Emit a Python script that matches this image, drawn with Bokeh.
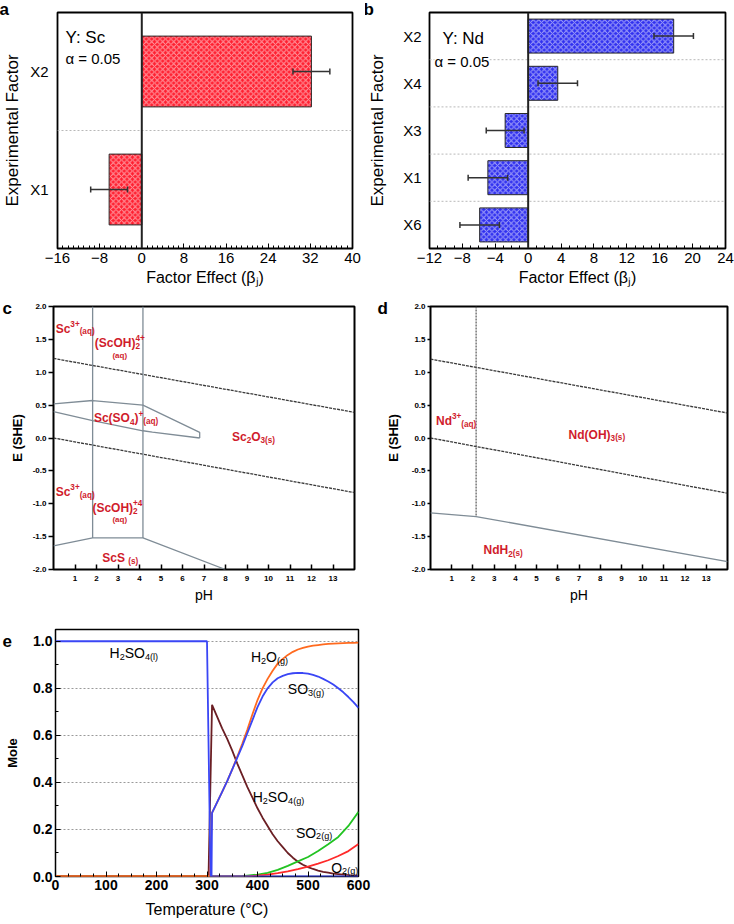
from bokeh.plotting import figure
from bokeh.layouts import column, row
from bokeh.models import (Label, Span, FixedTicker, Range1d, ColumnDataSource, PrintfTickFormatter,
                          Title)
from bokeh.embed import file_html
from bokeh.resources import INLINE

FONT = "Liberation Sans"

# ---------------- data ----------------
a_factors = ["X1", "X2"]
a_effects = [-6.2, 32.2]
a_errors = [3.5, 3.5]
a_ticks = [-16, -8, 0, 8, 16, 24, 32, 40]
a_minor = list(range(-16, 41))

b_factors = ["X6", "X1", "X3", "X4", "X2"]
b_effects = [-5.9, -4.9, -2.8, 3.6, 17.7]
b_errors = [2.4, 2.4, 2.3, 2.4, 2.4]
b_ticks = [-12, -8, -4, 0, 4, 8, 12, 16, 20, 24]
b_minor = list(range(-12, 25))

ph_ticks = [1, 2, 3, 4, 5, 6, 7, 8, 9, 10, 11, 12, 13]
e_ticks = [-2.0, -1.5, -1.0, -0.5, 0.0, 0.5, 1.0, 1.5, 2.0]

# panel c boundaries (pH, E)
c_wup_ph = [0, 14]
c_wup_E = [1.21, 0.39]
c_wlo_ph = [0, 14]
c_wlo_E = [0.0, -0.83]
c_v1_ph = [1.82, 1.82]
c_v1_E = [2.0, -1.52]
c_v2_ph = [4.16, 4.16]
c_v2_E = [2.0, -1.52]
c_so4up_ph = [0, 1.82, 4.16, 6.8, 6.8]
c_so4up_E = [0.52, 0.57, 0.50, 0.085, 0.0]
c_so4lo_ph = [0, 1.82, 4.16, 4.6, 6.8]
c_so4lo_E = [0.40, 0.265, 0.11, 0.09, 0.0]
c_scs_ph = [0, 1.82, 4.16, 8.0]
c_scs_E = [-1.64, -1.52, -1.52, -2.0]

# panel d boundaries
d_wup_ph = [0, 14]
d_wup_E = [1.20, 0.38]
d_wlo_ph = [0, 14]
d_wlo_E = [0.0, -0.84]
d_v_ph = [2.15, 2.15]
d_v_E = [2.0, -1.195]
d_ndh_ph = [0, 2.15, 14]
d_ndh_E = [-1.14, -1.195, -1.88]

# panel e
t_ticks = [0, 100, 200, 300, 400, 500, 600]
t_minor = list(range(0, 601, 25))
m_ticks = [0.0, 0.2, 0.4, 0.6, 0.8, 1.0]
m_minor = [0.0, 0.1, 0.2, 0.3, 0.4, 0.5, 0.6, 0.7, 0.8, 0.9, 1.0]

h2so4l_T = [0, 300, 307, 600]
h2so4l_m = [1.0, 1.0, 0.0, 0.0]

h2so4g_T = [0, 303, 310, 320, 330, 340, 350, 360, 370, 380, 390, 400, 410, 420, 430, 440, 450,
            460, 470, 480, 490, 500, 510, 520, 530, 540, 550, 560, 570, 580, 590, 600]
h2so4g_m = [0.0, 0.0, 0.73, 0.68, 0.63, 0.585, 0.535, 0.48, 0.43, 0.38, 0.335, 0.29, 0.25, 0.215,
            0.18, 0.15, 0.125, 0.10, 0.08, 0.063, 0.05, 0.04, 0.032, 0.025, 0.02, 0.016, 0.012,
            0.01, 0.008, 0.006, 0.005, 0.004]

h2o_T = [0, 305, 310, 320, 330, 340, 350, 360, 370, 380, 390, 400, 410, 420, 430, 440, 450, 460,
         470, 480, 490, 500, 510, 520, 530, 540, 550, 560, 570, 580, 590, 600]
h2o_m = [0.0, 0.0, 0.27, 0.315, 0.36, 0.405, 0.455, 0.51, 0.565, 0.625, 0.69, 0.75, 0.80, 0.84,
         0.875, 0.905, 0.925, 0.942, 0.955, 0.965, 0.972, 0.977, 0.981, 0.984, 0.987, 0.989, 0.990,
         0.991, 0.992, 0.993, 0.993, 0.994]

so3_T = [309, 310, 320, 330, 340, 350, 360, 370, 380, 390, 400, 410, 420, 430, 440, 450, 460, 470,
         480, 490, 500, 510, 520, 530, 540, 550, 560, 570, 580, 590, 600]
so3_m = [0.0, 0.27, 0.315, 0.36, 0.405, 0.455, 0.505, 0.555, 0.61, 0.665, 0.72, 0.765, 0.80, 0.825,
         0.843, 0.853, 0.86, 0.864, 0.866, 0.865, 0.862, 0.857, 0.85, 0.84, 0.829, 0.816, 0.80,
         0.783, 0.763, 0.741, 0.717]

so2_T = [0, 350, 370, 400, 420, 440, 460, 480, 500, 520, 540, 560, 580, 600]
so2_m = [0.0, 0.0, 0.002, 0.008, 0.015, 0.028, 0.045, 0.064, 0.083, 0.108, 0.137, 0.168, 0.215, 0.275]

o2_T = [0, 380, 400, 420, 440, 460, 480, 500, 520, 540, 560, 580, 600]
o2_m = [0.0, 0.0, 0.004, 0.008, 0.014, 0.022, 0.031, 0.042, 0.055, 0.069, 0.087, 0.108, 0.138]

# ---------------- helpers ----------------
REG_W = {'H': .722, 'S': .667, 'O': .778, 'C': .722, 'N': .722, 'd': .556, '(': .333, ')': .333,
         'l': .222, 'g': .556, 'a': .556, 'q': .556, 's': .5, 'c': .5, 'h': .556, '+': .584,
         ' ': .278}
BOLD_W = {'H': .722, 'S': .667, 'O': .778, 'C': .722, 'N': .722, 'd': .611, '(': .333, ')': .333,
          'l': .278, 'g': .611, 'a': .556, 'q': .611, 's': .556, 'c': .556, 'h': .611, '+': .584,
          ' ': .278}


def tw(s, size, bold):
    t = BOLD_W if bold else REG_W
    return sum(t.get(ch, 0.556) for ch in s) * size


def rich(p, x, y, segs, size, color="black", bold=False, ratio=0.68):
    small = size * ratio

    def seg_w(txt, kind):
        if kind == "n":
            return tw(txt, size, bold)
        if kind == "bp":
            return max(tw(txt[0], small, bold), tw(txt[1], small, bold))
        return tw(txt, small, bold)

    off = 0
    for txt, kind in segs:
        if kind == "n":
            pieces = [(txt, size, 0)]
        elif kind == "b":
            pieces = [(txt, small, -0.28 * size)]
        elif kind == "p":
            pieces = [(txt, small, 0.38 * size)]
        else:
            pieces = [(txt[0], small, -0.28 * size), (txt[1], small, 0.38 * size)]
        for t, fs, dy in pieces:
            p.add_layout(Label(x=x, y=y, x_offset=off, y_offset=dy,
                               text=t, text_font=FONT, text_font_size=f"{fs:.1f}px",
                               text_font_style="bold" if bold else "normal", text_color=color,
                               text_baseline="alphabetic", text_align="left"))
        off += seg_w(txt, kind)


def screen_label(p, x, y, text, size, bold=False, color="black", bg=None):
    p.add_layout(Label(x=x, y=y, x_units="screen", y_units="screen", text=text, text_font=FONT,
                       text_font_size=f"{size}px", text_font_style="bold" if bold else "normal",
                       text_color=color, text_baseline="alphabetic",
                       background_fill_color=bg))


def panel_letter(p, text, offset, standoff, valign="bottom"):
    p.add_layout(Title(text=text, align="left", vertical_align=valign, offset=offset,
                       standoff=standoff, text_font=FONT, text_font_size="17px",
                       text_font_style="bold", text_color="black"), "above")


def base_fig(width, height, mbl, mbr, mbt, mbb, **kw):
    p = figure(width=width, height=height, output_backend="svg", toolbar_location=None,
               min_border_left=mbl, min_border_right=mbr, min_border_top=mbt,
               min_border_bottom=mbb, **kw)
    p.outline_line_color = "black"
    p.outline_line_width = 1.8
    p.outline_line_alpha = 1.0
    p.xgrid.visible = False
    p.ygrid.visible = False
    for ax in (p.xaxis, p.yaxis):
        ax.axis_line_color = None
        ax.major_label_text_font = FONT
        ax.axis_label_text_font = FONT
        ax.axis_label_text_font_style = "normal"
        ax.major_label_text_color = "black"
        ax.axis_label_text_color = "black"
        ax.major_tick_line_color = "black"
        ax.minor_tick_line_color = "black"
    return p


# ---------------- panel a / b (bar charts) ----------------
def bar_panel(factors, effects, errors, xr, ticks, minor, color, width, mbl, mbr, bar_h,
              ylab_standoff, ytick_standoff):
    p = base_fig(width, 290, mbl, mbr, 12, 42, y_range=factors, x_range=Range1d(*xr))
    for i in range(1, len(factors)):
        p.add_layout(Span(location=i, dimension="width", line_color="#b8b8b8", line_width=1,
                          line_dash="2 2"))
    src = ColumnDataSource(dict(y=factors, v=effects,
                                lo=[v - e for v, e in zip(effects, errors)],
                                hi=[v + e for v, e in zip(effects, errors)]))
    p.hbar(y="y", left=0, right="v", height=bar_h, source=src, fill_color=color,
           line_color="#2a2a2a", line_width=1, hatch_pattern="x", hatch_color="white",
           hatch_alpha=0.55, hatch_scale=5.5, hatch_weight=1)
    p.add_layout(Span(location=0, dimension="height", line_color="#222222", line_width=2))
    p.segment(x0="lo", y0="y", x1="hi", y1="y", source=src, line_color="#333333", line_width=1.5)
    p.scatter(x="lo", y="y", source=src, marker="dash", angle=1.5708, size=6,
              line_color="#333333", line_width=1.5)
    p.scatter(x="hi", y="y", source=src, marker="dash", angle=1.5708, size=6,
              line_color="#333333", line_width=1.5)
    p.xaxis.ticker = FixedTicker(ticks=ticks, minor_ticks=minor)
    p.xaxis.major_tick_in = 5
    p.xaxis.major_tick_out = 0
    p.xaxis.minor_tick_in = 3
    p.xaxis.minor_tick_out = 0
    p.xaxis.major_label_text_font_size = "15px"
    p.xaxis.major_label_standoff = 4
    p.xaxis.axis_label = "Factor Effect (βⱼ)"
    p.xaxis.axis_label_text_font_size = "16px"
    p.xaxis.axis_label_standoff = 3
    p.yaxis.major_tick_line_color = None
    p.yaxis.minor_tick_line_color = None
    p.yaxis.major_label_text_font_size = "15px"
    p.yaxis.major_label_standoff = ytick_standoff
    p.yaxis.axis_label = "Experimental Factor"
    p.yaxis.axis_label_text_font_size = "17px"
    p.yaxis.axis_label_standoff = ylab_standoff
    return p


fa = bar_panel(a_factors, a_effects, a_errors, (-16, 40), a_ticks, a_minor, "#ff1f30", 365, 57,
               13, 0.6, 5, 3)
fb = bar_panel(b_factors, b_effects, b_errors, (-12, 24), b_ticks, b_minor, "#3030f0", 369, 62,
               9, 0.72, 13, 2)

panel_letter(fa, "a", -58, -12)
screen_label(fa, 8, 211, "Y: Sc", 17)
screen_label(fa, 8, 190, "α = 0.05", 15)

panel_letter(fb, "b", -66, -12)
screen_label(fb, 13, 210, "Y: Nd", 17)
screen_label(fb, 5, 187, "α = 0.05", 15, bg="white")


# ---------------- panel c / d (Pourbaix) ----------------
def pourbaix(width, height, mbl, mbr, mbt, mbb, ylab_standoff, ytick_out):
    p = base_fig(width, height, mbl, mbr, mbt, mbb, x_range=Range1d(0, 14),
                 y_range=Range1d(-2, 2))
    p.outline_line_width = 2
    p.xaxis.ticker = FixedTicker(ticks=ph_ticks)
    p.yaxis.ticker = FixedTicker(ticks=e_ticks)
    p.yaxis.formatter = PrintfTickFormatter(format="%.1f")
    p.xaxis.major_tick_in = 5
    p.xaxis.major_tick_out = 0
    p.yaxis.major_tick_in = 0
    p.yaxis.major_tick_out = ytick_out
    for ax in (p.xaxis, p.yaxis):
        ax.major_tick_line_width = 1.5
        ax.major_label_text_font_size = "8px"
        ax.major_label_text_font_style = "bold"
        ax.major_label_standoff = 2
    p.xaxis.major_label_standoff = 6
    p.xaxis.axis_label = "pH"
    p.xaxis.axis_label_text_font_size = "14px"
    p.xaxis.axis_label_standoff = 3
    p.yaxis.axis_label = "E (SHE)"
    p.yaxis.axis_label_text_font_size = "13px"
    p.yaxis.axis_label_text_font_style = "bold"
    p.yaxis.axis_label_standoff = ylab_standoff
    return p


WATER = dict(line_color="#3a3a3a", line_width=1.3, line_dash="3 1")
BOUND = dict(line_color="#7f8c96", line_width=1.3)
RED = "#d01c2c"

fc = pourbaix(365, 320, 53, 11, 16, 33, 5, 5)
fc.line(c_wup_ph, c_wup_E, **WATER)
fc.line(c_wlo_ph, c_wlo_E, **WATER)
fc.line(c_v1_ph, c_v1_E, **BOUND)
fc.line(c_v2_ph, c_v2_E, **BOUND)
fc.line(c_so4up_ph, c_so4up_E, **BOUND)
fc.line(c_so4lo_ph, c_so4lo_E, **BOUND)
fc.line(c_scs_ph, c_scs_E, **BOUND)
panel_letter(fc, "c", -51, -22)
rich(fc, 0.1, 1.665, [("Sc", "n"), ("3+", "p"), ("(aq)", "b")], 12, RED, True)
rich(fc, 1.92, 1.445, [("(ScOH)", "n"), (("2", "4+"), "bp")], 12, RED, True)
rich(fc, 2.74, 1.26, [("(aq)", "n")], 8, RED, True)
rich(fc, 1.88, 0.30, [("Sc(SO", "n"), ("4", "b"), (")", "n"), ("+", "p"), ("(aq)", "b")], 12, RED, True)
rich(fc, 8.3, 0.02, [("Sc", "n"), ("2", "b"), ("O", "n"), ("3", "b"), (" (s)", "b")], 12, RED, True)
rich(fc, 0.1, -0.82, [("Sc", "n"), ("3+", "p"), ("(aq)", "b")], 12, RED, True)
rich(fc, 1.81, -1.065, [("(ScOH)", "n"), (("2", "+4"), "bp")], 12, RED, True)
rich(fc, 2.74, -1.237, [("(aq)", "n")], 8, RED, True)
rich(fc, 2.27, -1.83, [("ScS ", "n"), ("(s)", "b")], 12, RED, True)

fd = pourbaix(369, 320, 65, 7, 14, 41, 8, 3)
fd.line(d_wup_ph, d_wup_E, **WATER)
fd.line(d_wlo_ph, d_wlo_E, **WATER)
fd.line(d_v_ph, d_v_E, line_color="#555555", line_width=1.2, line_dash="2 1")
fd.line(d_ndh_ph, d_ndh_E, **BOUND)
panel_letter(fd, "d", -53, -22)
rich(fd, 0.26, 0.264, [("Nd", "n"), ("3+", "p"), ("(aq)", "b")], 12, RED, True)
rich(fd, 6.51, 0.053, [("Nd(OH)", "n"), ("3", "b"), (" (s)", "b")], 12, RED, True)
rich(fd, 2.5, -1.71, [("NdH", "n"), ("2", "b"), (" (s)", "b")], 12, RED, True)

# ---------------- panel e ----------------
fe = base_fig(380, 314, 55, 22, 19, 48, x_range=Range1d(0, 600), y_range=Range1d(0, 1.05))
fe.outline_line_width = 1.5
fe.ygrid.visible = True
fe.ygrid.ticker = FixedTicker(ticks=[0.2, 0.4, 0.6, 0.8, 1.0])
fe.ygrid.grid_line_color = "#9a9a9a"
fe.ygrid.grid_line_dash = "2 2"
fe.ygrid.grid_line_width = 1
fe.xaxis.ticker = FixedTicker(ticks=t_ticks, minor_ticks=t_minor)
fe.yaxis.ticker = FixedTicker(ticks=m_ticks, minor_ticks=m_minor)
fe.yaxis.formatter = PrintfTickFormatter(format="%.1f")
for ax in (fe.xaxis, fe.yaxis):
    ax.major_tick_in = 5
    ax.major_tick_out = 0
    ax.minor_tick_in = 3
    ax.minor_tick_out = 0
    ax.major_label_text_font_size = "14px"
    ax.major_label_text_font_style = "bold"
    ax.major_label_standoff = 3
fe.xaxis.axis_label = "Temperature (°C)"
fe.xaxis.axis_label_text_font_size = "16px"
fe.xaxis.axis_label_standoff = 8
fe.yaxis.axis_label = "Mole"
fe.yaxis.axis_label_text_font_size = "13px"
fe.yaxis.axis_label_text_font_style = "bold"
fe.yaxis.axis_label_standoff = 10

LW = 1.8
fe.line(h2so4g_T, h2so4g_m, line_color="#6b1f24", line_width=LW)
fe.line(so2_T, so2_m, line_color="#22c322", line_width=LW)
fe.line(o2_T, o2_m, line_color="#ff2a2a", line_width=LW)
fe.line(h2o_T, h2o_m, line_color="#ff6a1f", line_width=LW)
fe.line(so3_T, so3_m, line_color="#3a46f5", line_width=LW)
fe.line(h2so4l_T, h2so4l_m, line_color="#3a46f5", line_width=LW)

panel_letter(fe, "e", -53, -35)
rich(fe, 107, 0.948, [("H", "n"), ("2", "b"), ("SO", "n"), ("4(l)", "b")], 14, ratio=0.65)
rich(fe, 387, 0.933, [("H", "n"), ("2", "b"), ("O", "n"), ("(g)", "b")], 14, ratio=0.65)
rich(fe, 460, 0.798, [("SO", "n"), ("3(g)", "b")], 14, ratio=0.65)
rich(fe, 390.5, 0.337, [("H", "n"), ("2", "b"), ("SO", "n"), ("4(g)", "b")], 14, ratio=0.65)
rich(fe, 476, 0.187, [("SO", "n"), ("2(g)", "b")], 14, ratio=0.65)
rich(fe, 546, 0.038, [("O", "n"), ("2(g)", "b")], 14, ratio=0.65)

layout = column(row(fa, fb), row(fc, fd), fe)
open("out.html", "w").write(file_html(layout, INLINE))
